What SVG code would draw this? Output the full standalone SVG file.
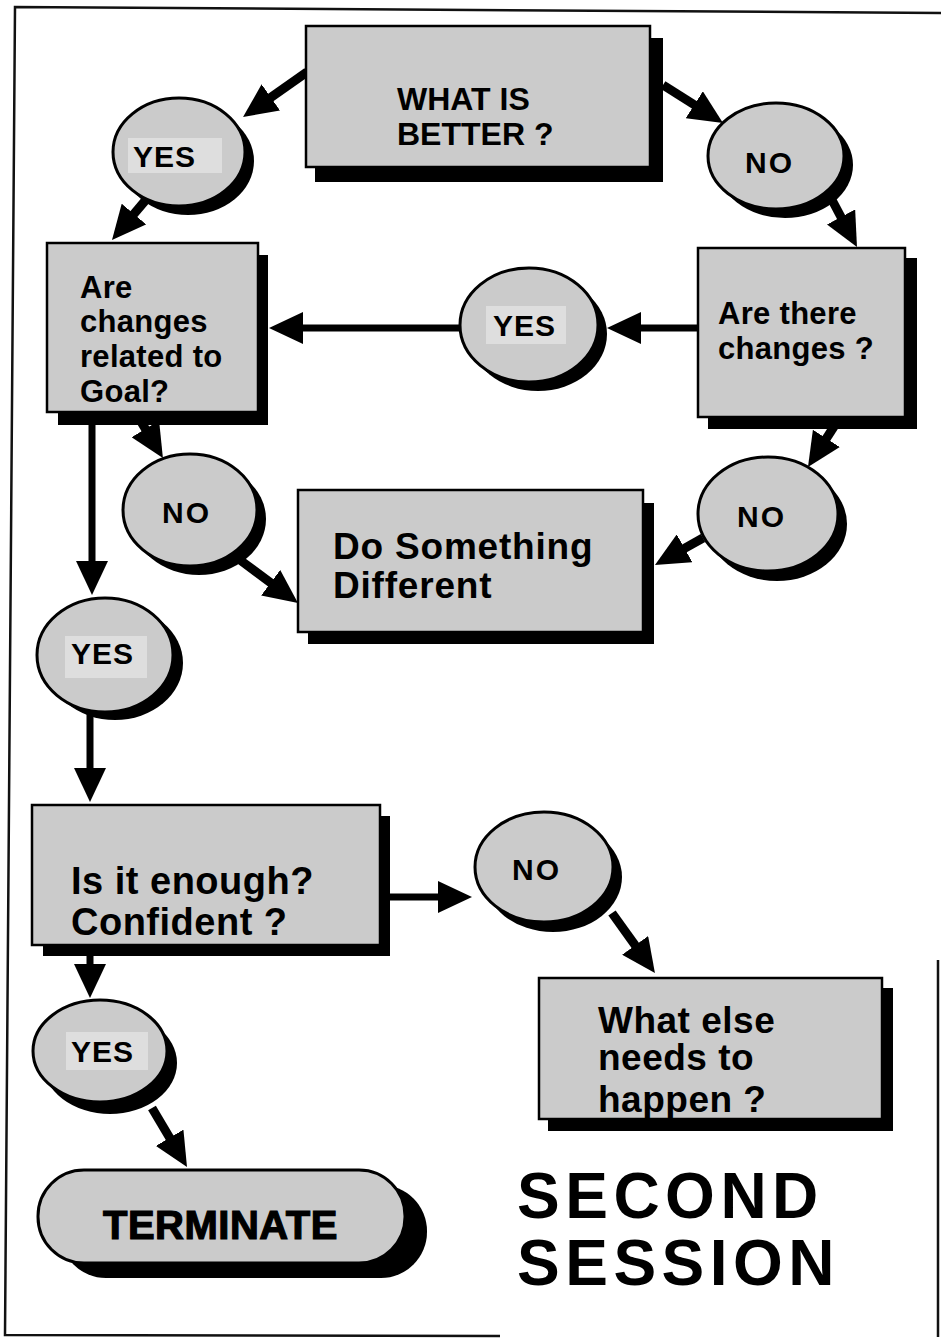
<svg xmlns="http://www.w3.org/2000/svg" width="941" height="1339" viewBox="0 0 941 1339">
<style>
.bg{fill:#ffffff}
.frame{fill:none;stroke:#111;stroke-width:2.5}
.box{fill:#cbcbcb;stroke:#000;stroke-width:2.5}
.oval{fill:#cbcbcb;stroke:#000;stroke-width:3}
.sh{fill:#000}
.hl{fill:#dedede}
.t{font-family:"Liberation Sans",Arial,sans-serif;font-weight:bold;fill:#000}
.c{stroke:#000;fill:none;marker-end:url(#ah)}
.w9{stroke-width:9}
.w7{stroke-width:7}
</style>
<defs>
<marker id="ah" markerUnits="userSpaceOnUse" markerWidth="34" markerHeight="32" refX="14" refY="16" orient="auto">
<path d="M0,0 L34,16 L0,32 z" fill="#000"/>
</marker>
</defs>
<rect class="bg" x="0" y="0" width="941" height="1339"/>
<g id="frame">
<polyline class="frame" points="941,13 15,7 5,1335 500,1336"/>
<line class="frame" x1="938" y1="960" x2="938" y2="1337"/>
</g>
<g id="connectors">
<line class="c w9" x1="307" y1="72" x2="259.4" y2="105.5"/>
<line class="c w9" x1="663" y1="85" x2="706.1" y2="112.3"/>
<line class="c w9" x1="150" y1="195" x2="124.9" y2="224.7"/>
<line class="c w9" x1="832" y1="200" x2="847.6" y2="229.3"/>
<line class="c w7" x1="698" y1="328" x2="627" y2="328"/>
<line class="c w7" x1="462" y1="328" x2="289" y2="328"/>
<line class="c w9" x1="137" y1="415" x2="152.6" y2="440.9"/>
<line class="c w9" x1="240" y1="560" x2="281.9" y2="591.1"/>
<line class="c w7" x1="92" y1="425" x2="92" y2="575"/>
<line class="c w9" x1="835" y1="425" x2="818.8" y2="450.2"/>
<line class="c w9" x1="703" y1="538" x2="672.4" y2="555.2"/>
<line class="c w7" x1="90" y1="713" x2="90" y2="782"/>
<line class="c w7" x1="390" y1="897" x2="452" y2="897"/>
<line class="c w7" x1="90" y1="950" x2="90" y2="978"/>
<line class="c w9" x1="612" y1="913" x2="643.3" y2="956.7"/>
<line class="c w9" x1="152" y1="1108" x2="176.8" y2="1149.8"/>
</g>
<g id="what-is-better">
<rect class="sh" x="315" y="38" width="348" height="144"/>
<rect class="box" x="306" y="26" width="344" height="141"/>
<text class="t" x="397" y="110" font-size="32">WHAT IS</text>
<text class="t" x="397" y="145" font-size="32">BETTER ?</text>
</g>
<g id="yes-1">
<ellipse class="sh" cx="188" cy="161" rx="66" ry="54"/>
<ellipse class="oval" cx="179" cy="152" rx="66" ry="54"/>
<rect class="hl" x="128" y="138" width="94" height="35"/>
<text class="t" x="133" y="167" font-size="30" letter-spacing="1">YES</text>
</g>
<g id="no-1">
<ellipse class="sh" cx="785" cy="165" rx="68" ry="53"/>
<ellipse class="oval" cx="776" cy="156" rx="68" ry="53"/>
<text class="t" x="745" y="173" font-size="30" letter-spacing="2">NO</text>
</g>
<g id="are-changes-related">
<rect class="sh" x="58" y="255" width="210" height="170"/>
<rect class="box" x="47" y="243" width="211" height="169"/>
<text class="t" x="80" y="298" font-size="31" letter-spacing="0.3">Are</text>
<text class="t" x="80" y="332" font-size="31" letter-spacing="0.3">changes</text>
<text class="t" x="80" y="367" font-size="31" letter-spacing="0.3">related to</text>
<text class="t" x="80" y="402" font-size="31" letter-spacing="0.3">Goal?</text>
</g>
<g id="yes-2">
<ellipse class="sh" cx="538" cy="334" rx="69" ry="57"/>
<ellipse class="oval" cx="529" cy="325" rx="69" ry="57"/>
<rect class="hl" x="486" y="306" width="80" height="38"/>
<text class="t" x="493" y="336" font-size="30" letter-spacing="1">YES</text>
</g>
<g id="are-there-changes">
<rect class="sh" x="708" y="258" width="209" height="171"/>
<rect class="box" x="698" y="248" width="207" height="169"/>
<text class="t" x="718" y="324" font-size="31" letter-spacing="0.3">Are there</text>
<text class="t" x="718" y="359" font-size="31" letter-spacing="0.3">changes ?</text>
</g>
<g id="no-2">
<ellipse class="sh" cx="199" cy="519" rx="67" ry="56"/>
<ellipse class="oval" cx="190" cy="510" rx="67" ry="56"/>
<text class="t" x="162" y="523" font-size="30" letter-spacing="2">NO</text>
</g>
<g id="do-something-different">
<rect class="sh" x="308" y="503" width="346" height="141"/>
<rect class="box" x="298" y="490" width="345" height="142"/>
<text class="t" x="333" y="559" font-size="37" letter-spacing="0.8">Do Something</text>
<text class="t" x="333" y="598" font-size="37" letter-spacing="0.8">Different</text>
</g>
<g id="no-3">
<ellipse class="sh" cx="777" cy="524" rx="70" ry="57"/>
<ellipse class="oval" cx="768" cy="514" rx="70" ry="57"/>
<text class="t" x="737" y="527" font-size="30" letter-spacing="2">NO</text>
</g>
<g id="yes-3">
<ellipse class="sh" cx="115" cy="663" rx="68" ry="57"/>
<ellipse class="oval" cx="105" cy="655" rx="68" ry="57"/>
<rect class="hl" x="65" y="636" width="82" height="42"/>
<text class="t" x="71" y="664" font-size="30" letter-spacing="1">YES</text>
</g>
<g id="is-it-enough">
<rect class="sh" x="43" y="816" width="347" height="140"/>
<rect class="box" x="32" y="805" width="348" height="140"/>
<text class="t" x="71" y="894" font-size="38" letter-spacing="0.5">Is it enough?</text>
<text class="t" x="71" y="935" font-size="38" letter-spacing="0.5">Confident ?</text>
</g>
<g id="no-4">
<ellipse class="sh" cx="553" cy="877" rx="69" ry="55"/>
<ellipse class="oval" cx="544" cy="867" rx="69" ry="55"/>
<text class="t" x="512" y="880" font-size="30" letter-spacing="2">NO</text>
</g>
<g id="what-else">
<rect class="sh" x="548" y="988" width="345" height="143"/>
<rect class="box" x="539" y="978" width="343" height="141"/>
<text class="t" x="598" y="1033" font-size="37" letter-spacing="0.5">What else</text>
<text class="t" x="598" y="1070" font-size="37" letter-spacing="0.5">needs to</text>
<text class="t" x="598" y="1112" font-size="37" letter-spacing="0.5">happen ?</text>
</g>
<g id="yes-4">
<ellipse class="sh" cx="110" cy="1063" rx="67" ry="51"/>
<ellipse class="oval" cx="100" cy="1051" rx="67" ry="51"/>
<rect class="hl" x="66" y="1032" width="82" height="38"/>
<text class="t" x="71" y="1062" font-size="30" letter-spacing="1">YES</text>
</g>
<g id="terminate">
<rect class="sh" x="60" y="1185" width="367" height="93" rx="46" ry="46"/>
<rect class="oval" x="38" y="1170" width="367" height="93" rx="46" ry="46"/>
<text class="t" x="103" y="1239" font-size="40" letter-spacing="0.5" stroke="#000" stroke-width="1.2">TERMINATE</text>
</g>
<g id="title">
<text class="t" x="517" y="1218" font-size="64" letter-spacing="5.5">SECOND</text>
<text class="t" x="517" y="1285" font-size="64" letter-spacing="5.5">SESSION</text>
</g>
</svg>
